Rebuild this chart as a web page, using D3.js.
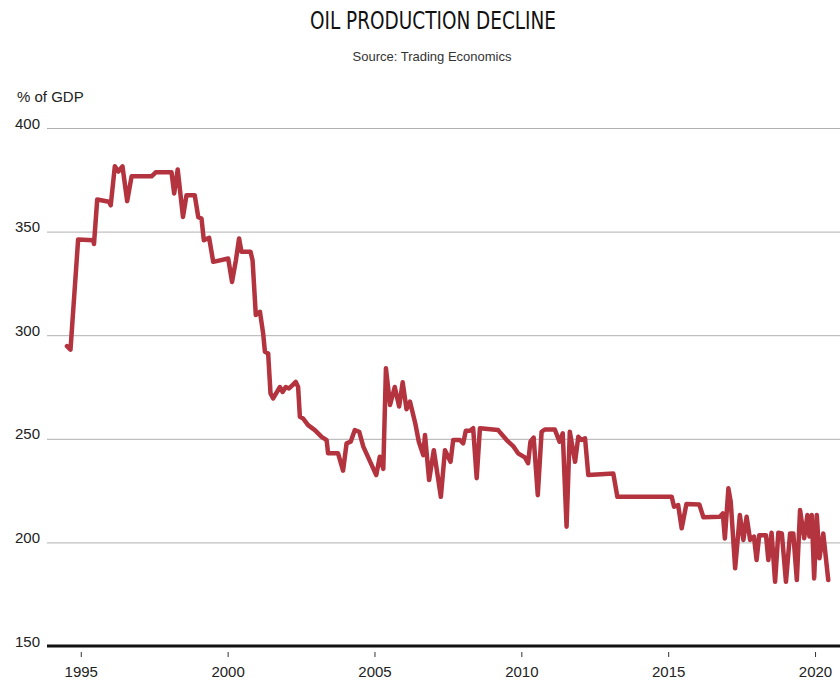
<!DOCTYPE html>
<html>
<head>
<meta charset="utf-8">
<script src="https://cdn.jsdelivr.net/npm/d3@7"></script>
<style>
  body { margin: 0; background: #fff; }
  svg { display: block; }
</style>
</head>
<body>
<svg id="chart" width="840" height="682"></svg>
<script>
// ---- Data ----
const years = [
  1994.53, 1994.65, 1994.91, 1995.42, 1995.45, 1995.56, 1995.96, 1996.02, 1996.16, 1996.28,
  1996.42, 1996.58, 1996.73, 1997.41, 1997.55, 1998.09, 1998.18, 1998.30, 1998.48, 1998.60,
  1998.88, 1999.00, 1999.11, 1999.19, 1999.37, 1999.51, 2000.02, 2000.15, 2000.28, 2000.39,
  2000.47, 2000.78, 2000.85, 2000.96, 2001.10, 2001.21, 2001.27, 2001.38, 2001.46, 2001.55,
  2001.78, 2001.87, 2001.98, 2002.09, 2002.21, 2002.32, 2002.40, 2002.46, 2002.57, 2002.74,
  2002.97, 2003.20, 2003.37, 2003.42, 2003.76, 2003.93, 2004.05, 2004.19, 2004.33, 2004.48,
  2004.62, 2005.06, 2005.18, 2005.30, 2005.39, 2005.53, 2005.69, 2005.84, 2005.96, 2006.09,
  2006.21, 2006.39, 2006.51, 2006.66, 2006.72, 2006.86, 2007.02, 2007.26, 2007.40, 2007.59,
  2007.68, 2007.91, 2008.02, 2008.11, 2008.25, 2008.36, 2008.48, 2008.59, 2009.21, 2009.50,
  2009.72, 2009.89, 2010.12, 2010.23, 2010.31, 2010.42, 2010.56, 2010.69, 2010.80, 2011.14,
  2011.30, 2011.41, 2011.54, 2011.65, 2011.83, 2011.94, 2012.05, 2012.17, 2012.28, 2013.13,
  2013.27, 2015.12, 2015.20, 2015.34, 2015.46, 2015.62, 2016.06, 2016.20, 2016.76, 2016.86,
  2016.93, 2017.05, 2017.13, 2017.28, 2017.44, 2017.56, 2017.67, 2017.79, 2017.92, 2018.01,
  2018.10, 2018.33, 2018.41, 2018.52, 2018.64, 2018.75, 2018.87, 2019.01, 2019.15, 2019.26,
  2019.38, 2019.49, 2019.63, 2019.74, 2019.81, 2019.89, 2019.97, 2020.06, 2020.15, 2020.28,
  2020.45
];
const values = [
  294.7, 293.0, 346.2, 345.8, 344.0, 365.5, 364.4, 362.7, 381.5, 379.0,
  381.5, 364.7, 376.7, 376.7, 378.6, 378.6, 368.4, 380.0, 357.1, 367.6,
  367.6, 357.0, 356.3, 345.8, 347.0, 335.4, 337.0, 325.7, 336.0, 346.7,
  340.3, 340.3, 336.0, 309.7, 311.3, 300.8, 292.0, 291.2, 271.9, 269.5,
  275.0, 272.6, 275.0, 274.3, 275.9, 277.5, 275.0, 260.6, 259.8, 256.6,
  254.2, 250.9, 249.4, 243.0, 243.0, 234.6, 247.8, 248.6, 254.2, 253.4,
  246.2, 232.5, 241.3, 235.5, 284.0, 266.3, 275.0, 265.6, 277.3, 264.3,
  267.9, 257.4, 248.6, 242.1, 251.8, 230.1, 244.5, 222.0, 244.5, 238.9,
  249.4, 249.4, 247.8, 253.9, 253.9, 255.1, 231.0, 255.1, 254.2, 249.4,
  246.5, 243.0, 241.0, 238.2, 248.6, 250.6, 222.8, 253.4, 254.5, 254.5,
  248.6, 252.6, 207.6, 253.4, 238.9, 251.0, 249.4, 250.2, 232.5, 233.3,
  222.0, 222.0, 217.2, 218.0, 206.8, 218.5, 218.3, 212.1, 212.4, 214.0,
  201.9, 226.1, 219.6, 187.5, 213.2, 201.2, 212.4, 201.2, 202.8, 191.5,
  203.5, 203.5, 191.5, 204.7, 181.0, 204.7, 204.3, 181.0, 204.3, 204.3,
  181.8, 215.6, 202.0, 213.2, 202.8, 213.2, 182.6, 213.2, 192.3, 204.3,
  181.8
];
const yTicks = [150, 200, 250, 300, 350, 400];
const xTicks = [1995, 2000, 2005, 2010, 2015, 2020];
const titleText = "OIL PRODUCTION DECLINE";
const subtitleText = "Source: Trading Economics";
const yUnitText = "% of GDP";

// ---- Layout ----
const svg = d3.select("#chart");
const plotLeft = 47, plotRight = 840, plotTop = 128, plotBottom = 646;

const x = d3.scaleLinear().domain([1993.85, 2020.85]).range([plotLeft, plotRight]);
const y = d3.scaleLinear().domain([150, 400]).range([plotBottom, plotTop]);

// Title & subtitle
svg.append("text")
  .attr("x", 433).attr("y", 29)
  .attr("text-anchor", "middle")
  .attr("font-family", "'Liberation Sans Narrow', 'DejaVu Sans Condensed', sans-serif")
  .attr("font-size", 24)
  .attr("fill", "#111")
  .attr("textLength", 246)
  .attr("lengthAdjust", "spacingAndGlyphs")
  .text(titleText);

svg.append("text")
  .attr("x", 432).attr("y", 61)
  .attr("text-anchor", "middle")
  .attr("font-family", "'Liberation Sans', Arial, sans-serif")
  .attr("font-size", 13)
  .attr("fill", "#333")
  .text(subtitleText);

svg.append("text")
  .attr("x", 17).attr("y", 102)
  .attr("font-family", "'Liberation Sans', Arial, sans-serif")
  .attr("font-size", 15)
  .attr("fill", "#222")
  .text(yUnitText);

// Y grid + labels
const yAxis = d3.axisLeft(y)
  .tickValues(yTicks)
  .tickSize(-(plotRight - plotLeft))
  .tickPadding(7)
  .tickFormat(d3.format("d"));
const gy = svg.append("g").attr("transform", `translate(${plotLeft},0)`).call(yAxis);
gy.select(".domain").remove();
gy.selectAll(".tick line").attr("stroke", "#b0b0b0").attr("stroke-width", 1)
  .attr("display", d => d === 150 ? "none" : null);
gy.selectAll(".tick text")
  .attr("dy", "0")
  .attr("font-family", "'Liberation Sans', Arial, sans-serif")
  .attr("font-size", 15)
  .attr("fill", "#222");

// X axis ticks + labels
const xAxis = d3.axisBottom(x)
  .tickValues(xTicks)
  .tickSize(5)
  .tickPadding(9)
  .tickFormat(d3.format("d"));
const gx = svg.append("g").attr("transform", `translate(0,${plotBottom + 6})`).call(xAxis);
gx.select(".domain").remove();
gx.selectAll(".tick line").attr("stroke", "#333").attr("stroke-width", 1);
gx.selectAll(".tick text")
  .attr("font-family", "'Liberation Sans', Arial, sans-serif")
  .attr("font-size", 15)
  .attr("fill", "#222");

// Baseline
svg.append("line")
  .attr("x1", plotLeft).attr("x2", plotRight)
  .attr("y1", y(150)).attr("y2", y(150))
  .attr("stroke", "#111").attr("stroke-width", 3);

// Data line
const data = years.map((yr, i) => ({ t: yr, v: values[i] }));
const line = d3.line().x(d => x(d.t)).y(d => y(d.v));
svg.append("path")
  .datum(data)
  .attr("d", line)
  .attr("fill", "none")
  .attr("stroke", "#b3333f")
  .attr("stroke-width", 4.5)
  .attr("stroke-linejoin", "round")
  .attr("stroke-linecap", "round");
</script>
</body>
</html>
